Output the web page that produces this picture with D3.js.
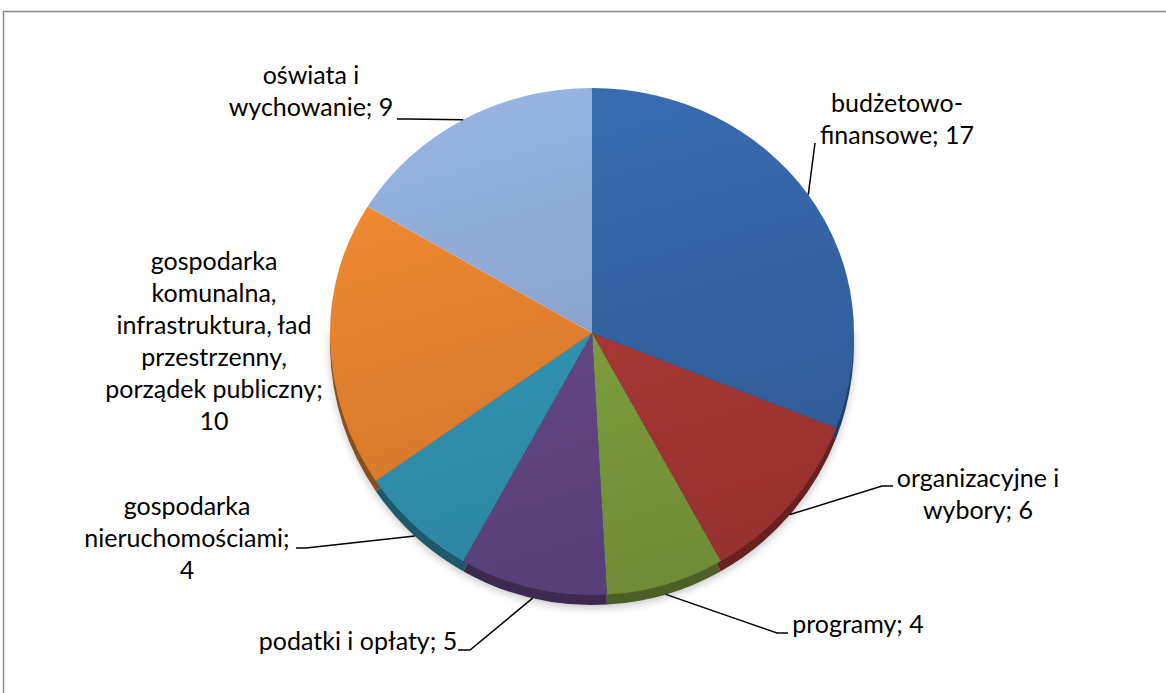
<!DOCTYPE html>
<html>
<head>
<meta charset="utf-8">
<script src="https://cdn.jsdelivr.net/npm/d3@7"></script>
<style>
  body { margin: 0; background: #fff; }
  text { font-family: Lato, "Open Sans", sans-serif; font-size: 25px; fill: #000; }
</style>
</head>
<body>
<div id="chart"></div>
<script>
// Data
const categories = [
  "budżetowo-finansowe",
  "organizacyjne i wybory",
  "programy",
  "podatki i opłaty",
  "gospodarka nieruchomościami",
  "gospodarka komunalna, infrastruktura, ład przestrzenny, porządek publiczny",
  "oświata i wychowanie"
];
const values = [17, 6, 4, 5, 4, 10, 9];
// how each category name wraps in its label
const nameLines = [
  ["budżetowo-", "finansowe"],
  ["organizacyjne i", "wybory"],
  ["programy"],
  ["podatki i opłaty"],
  ["gospodarka", "nieruchomościami"],
  ["gospodarka", "komunalna,", "infrastruktura, ład", "przestrzenny,", "porządek publiczny"],
  ["oświata i", "wychowanie"]
];
const valueOwnLine = [false, false, false, false, true, true, false];
const colors = ["#3464a4", "#a83735", "#7e9e3d", "#634686", "#3192b1", "#e2802e", "#8aa5d0"];

// Layout
const width = 1166, height = 693;
const cx = 592, cy = 333, r = 262;
const kTop = 245 / 262;   // far half of the pie is a bit flatter
const depth = 10;
const lineH = 32;
const labelPos = [
  { x: 897, y: 112, leader: [[815, 143]] },
  { x: 978, y: 487, leader: [[893, 486], [882, 486]] },
  { x: 858, y: 633, leader: [[788, 633], [777, 633]] },
  { x: 358, y: 650, leader: [[458, 650], [470, 650]] },
  { x: 187, y: 515, leader: [[296, 548], [306, 548]] },
  { x: 214, y: 270, leader: null },
  { x: 311, y: 84, leader: [[397, 119], [408, 119]] }
];

const svg = d3.select("#chart").append("svg")
  .attr("width", width)
  .attr("height", height);

const defs = svg.append("defs");

defs.append("clipPath").attr("id", "clipTop")
  .append("rect").attr("x", 0).attr("y", 0).attr("width", width).attr("height", cy + 0.5);
defs.append("clipPath").attr("id", "clipBottom")
  .append("rect").attr("x", 0).attr("y", cy - 0.5).attr("width", width).attr("height", height - cy);

defs.append("filter").attr("id", "blur")
  .attr("x", "-10%").attr("y", "-10%").attr("width", "120%").attr("height", "130%")
  .append("feGaussianBlur").attr("stdDeviation", 4);

colors.forEach((c, i) => {
  const g = defs.append("linearGradient")
    .attr("id", "grad" + i)
    .attr("gradientUnits", "userSpaceOnUse")
    .attr("x1", -r * 0.3).attr("y1", -r)
    .attr("x2", r * 0.3).attr("y2", r);
  g.append("stop").attr("offset", "0%").attr("stop-color", d3.rgb(c).brighter(0.25));
  g.append("stop").attr("offset", "100%").attr("stop-color", d3.rgb(c).darker(0.35));
});

// Border
svg.append("path")
  .attr("d", `M3.5,${height}V11.5H${width}`)
  .attr("fill", "none")
  .attr("stroke", "#888")
  .attr("stroke-width", 1.5);

const arcs = d3.pie().sort(null).value(d => d)(values);
const arc = d3.arc().innerRadius(0).outerRadius(r);

// Shadow under the pie
svg.append("g")
  .attr("clip-path", "url(#clipBottom)")
  .append("g")
  .attr("transform", `translate(${cx},${cy + depth + 3})`)
  .append("circle")
  .attr("r", r)
  .attr("fill", "#000")
  .attr("opacity", 0.22)
  .attr("filter", "url(#blur)");

// Side rim
svg.append("g")
  .attr("clip-path", "url(#clipBottom)")
  .append("g")
  .attr("transform", `translate(${cx},${cy + depth})`)
  .selectAll("path")
  .data(arcs)
  .enter()
  .append("path")
  .attr("d", arc)
  .attr("fill", (d, i) => d3.rgb(colors[i]).darker(1.4));

// Top face, near half and far half
[["clipBottom", 1], ["clipTop", kTop]].forEach(([clip, k]) => {
  svg.append("g")
    .attr("clip-path", `url(#${clip})`)
    .append("g")
    .attr("transform", `translate(${cx},${cy}) scale(1,${k})`)
    .selectAll("path")
    .data(arcs)
    .enter()
    .append("path")
    .attr("d", arc)
    .attr("fill", (d, i) => `url(#grad${i})`);
});

// Point on the pie edge for a given angle
function edgePoint(a) {
  const c = Math.cos(a);
  const x = cx + r * Math.sin(a);
  const y = c > 0 ? cy - r * c * kTop : cy - r * c + depth;
  return [x, y];
}

// Leader lines
arcs.forEach((d, i) => {
  const p = labelPos[i];
  if (!p.leader) return;
  const mid = (d.startAngle + d.endAngle) / 2;
  const pts = p.leader.concat([edgePoint(mid)]);
  svg.append("path")
    .attr("d", d3.line()(pts))
    .attr("fill", "none")
    .attr("stroke", "#000")
    .attr("stroke-width", 1.5);
});

// Labels
arcs.forEach((d, i) => {
  const lines = nameLines[i].slice();
  if (valueOwnLine[i]) {
    lines[lines.length - 1] += ";";
    lines.push(String(values[i]));
  } else {
    lines[lines.length - 1] += "; " + values[i];
  }
  const t = svg.append("text")
    .attr("text-anchor", "middle")
    .attr("x", labelPos[i].x)
    .attr("y", labelPos[i].y);
  lines.forEach((ln, j) => {
    t.append("tspan")
      .attr("x", labelPos[i].x)
      .attr("dy", j === 0 ? 0 : lineH)
      .text(ln);
  });
});
</script>
</body>
</html>
